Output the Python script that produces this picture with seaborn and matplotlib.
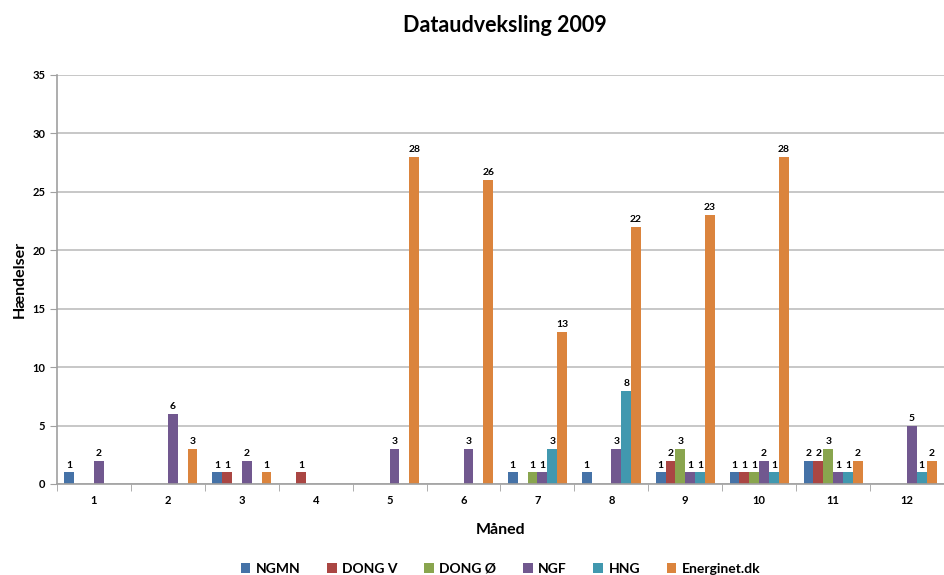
import numpy as np
import pandas as pd
import matplotlib.pyplot as plt
import seaborn as sns

# ---- Data ----
months = [1, 2, 3, 4, 5, 6, 7, 8, 9, 10, 11, 12]
series_names = ['NGMN', 'DONG V', 'DONG Ø', 'NGF', 'HNG', 'Energinet.dk']
ngmn = [1, 0, 1, 0, 0, 0, 1, 1, 1, 1, 2, 0]
dong_v = [0, 0, 1, 1, 0, 0, 0, 0, 2, 1, 2, 0]
dong_o = [0, 0, 0, 0, 0, 0, 1, 0, 3, 1, 3, 0]
ngf = [2, 6, 2, 0, 3, 3, 1, 3, 1, 2, 1, 5]
hng = [0, 0, 0, 0, 0, 0, 3, 8, 1, 1, 1, 1]
energinet = [0, 3, 1, 0, 28, 26, 13, 22, 23, 28, 2, 2]
colors = ['#4572A7', '#AA4643', '#89A54E', '#71588F', '#4198AF', '#DB843D']

# ---- Long format ----
rows = []
for name, vals in zip(series_names, [ngmn, dong_v, dong_o, ngf, hng, energinet]):
    for m, v in zip(months, vals):
        rows.append({'month': str(m), 'series': name, 'value': v})
df = pd.DataFrame(rows)

plt.rcParams['font.family'] = ['Lato', 'DejaVu Sans']

fig = plt.figure(figsize=(9.44, 5.75), dpi=100)
ax = fig.add_axes([57 / 944, 91 / 575, 887 / 944, 409 / 575])

p = sns.barplot(data=df, x='month', y='value', hue='series', hue_order=series_names,
                palette=colors, width=0.8, saturation=1, ax=ax, errorbar=None, legend=True)

# value labels (skip zeros)
for cont in ax.containers:
    vals = cont.datavalues
    labels = ['' if v == 0 else '%d' % v for v in vals]
    ax.bar_label(cont, labels=labels, fontsize=7.5, fontweight='bold', padding=2)

ax.set_ylim(0, 35)
ax.set_yticks(range(0, 36, 5))
ax.set_xlim(-0.5, 11.5)
ax.yaxis.grid(True, color='#BEBEBE', linewidth=1.2)
ax.set_axisbelow(True)
for s in ['top', 'right']:
    ax.spines[s].set_visible(False)
for s in ['left', 'bottom']:
    ax.spines[s].set_color('#A0A0A0')
    ax.spines[s].set_linewidth(1.2)

ax.tick_params(axis='y', length=5, color='#A0A0A0', labelsize=8)
ax.tick_params(axis='x', which='major', length=0, labelsize=8, pad=8)
ax.set_xticks(np.arange(-0.5, 12, 1), minor=True)
ax.tick_params(axis='x', which='minor', length=5, color='#A0A0A0')
for lbl in ax.get_xticklabels() + ax.get_yticklabels():
    lbl.set_fontweight('bold')

ax.set_xlabel('Måned', fontsize=11.5, fontweight='bold', labelpad=12)
ax.set_ylabel('Hændelser', fontsize=11.5, fontweight='bold', labelpad=4)
fig.text(0.535, 0.955, 'Dataudveksling 2009', ha='center', va='center', fontsize=15.5, fontweight='bold')

leg = ax.legend(loc='center', bbox_to_anchor=(0.5, -0.207), ncol=6, frameon=False,
                fontsize=10, handlelength=0.7, handleheight=0.7, columnspacing=1.9, handletextpad=0.4)
for t in leg.get_texts():
    t.set_fontweight('bold')

plt.savefig('out.png', dpi=100)
